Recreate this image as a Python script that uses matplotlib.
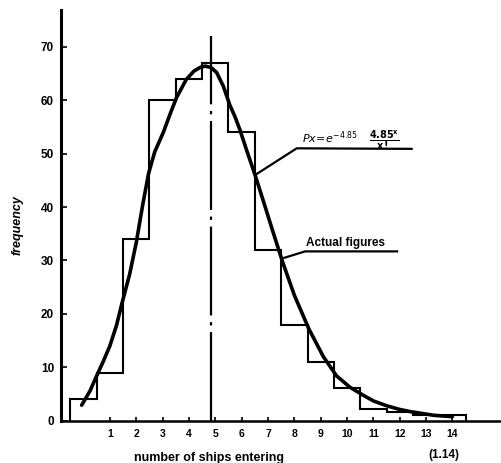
import numpy as np
import matplotlib
matplotlib.use("Agg")
import matplotlib.pyplot as plt

plt.rcParams['font.family'] = ['Liberation Sans', 'DejaVu Sans']

# observed counts per number of ships (step outline)
ships = list(range(0, 15))
actual = [4, 9, 34, 60, 64, 67, 54, 32, 18, 11, 6.2, 2.1, 1.7, 1.1, 1.1]

# fitted Poisson curve
curve_x = [-0.07, 0.25, 0.5, 0.75, 1.0, 1.25, 1.45, 1.75, 2.0, 2.25, 2.47, 2.7,
           3.03, 3.3, 3.53, 3.9, 4.2, 4.45, 4.62, 4.85, 5.05, 5.3, 5.56, 5.75,
           5.94, 6.2, 6.51, 6.82, 7.2, 7.55, 8.0, 8.55, 9.1, 9.6, 10.1, 10.6,
           11.0, 11.5, 12.0, 12.4, 13.3, 14.0]
curve_y = [2.9, 5.6, 8.4, 11.1, 14.0, 17.8, 21.8, 27.4, 33.3, 40.5, 46.3, 50.3,
           54.0, 57.6, 60.5, 63.9, 65.5, 66.2, 66.4, 66.1, 65.2, 62.7, 59.0, 56.9,
           54.4, 50.5, 46.0, 41.2, 35.2, 29.8, 23.5, 17.2, 12.0, 8.4, 6.3, 4.8,
           3.7, 2.8, 2.1, 1.7, 1.0, 0.75]

mean_ships = 4.85
y_ticks = [0, 10, 20, 30, 40, 50, 60, 70]
x_ticks = list(range(1, 15))

fig = plt.figure(figsize=(5.02, 4.63), dpi=100)
ax = fig.add_axes([0.1215, 0.0914, 0.8785, 0.887])

edges = np.arange(len(actual) + 1) - 0.5
ax.stairs(actual, edges, baseline=0, color='black', lw=1.5)
ax.plot(curve_x, curve_y, color='black', lw=2.6, solid_joinstyle='round',
        solid_capstyle='round')
ax.plot([mean_ships, mean_ships], [0, 72], color='black', lw=1.6,
        dashes=(40, 3, 1.5, 3))

# formula leader and label
ax.plot([6.51, 8.09, 12.45], [46.0, 51.0, 50.9], color='black', lw=1.6)
ax.text(8.3, 53.0, r"$Px\!=\!e^{-4.85}$", fontsize=8, fontweight='bold',
        ha='left', va='center')
ax.text(10.85, 52.6, r"$\frac{\mathbf{4.85^x}}{\mathbf{x\,!}}$", fontsize=10,
        ha='left', va='center')

# actual figures leader and label
ax.plot([7.62, 8.41, 11.9], [30.5, 31.7, 31.7], color='black', lw=1.6)
ax.text(8.45, 33.3, "Actual figures", fontsize=8.5, fontweight='bold',
        ha='left', va='center')

ax.set_xlim(-0.854, 15.88)
ax.set_ylim(0, 76.9)
ax.set_xticks(x_ticks)
ax.set_xticklabels([str(t) for t in x_ticks], fontsize=7.5, fontweight='bold')
ax.set_yticks(y_ticks)
ax.set_yticklabels([str(t) for t in y_ticks], fontsize=8.5, fontweight='bold')
ax.tick_params(axis='both', direction='in', length=4, width=1.2, pad=5)
ax.tick_params(axis='x', length=3, pad=6)
for s in ['top', 'right']:
    ax.spines[s].set_visible(False)
ax.spines['left'].set_linewidth(2.2)
ax.spines['bottom'].set_linewidth(1.8)

fig.text(209 / 502, 1 - 458 / 463, "number of ships entering", fontsize=9,
         fontweight='bold', ha='center', va='center')
fig.text(18 / 502, 1 - 225 / 463, "frequency", fontsize=9, fontstyle='italic',
         fontweight='bold', rotation=90, ha='center', va='center')
fig.text(444 / 502, 1 - 455 / 463, "(1.14)", fontsize=8.5, fontweight='bold',
         ha='center', va='center')

fig.savefig("out.png", dpi=100)
